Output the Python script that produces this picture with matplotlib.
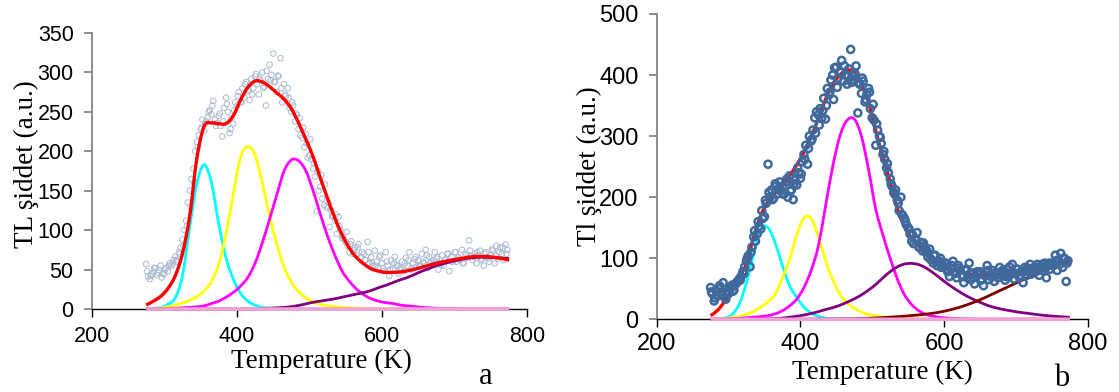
import numpy as np
import matplotlib
matplotlib.use("Agg")
import matplotlib.pyplot as plt
from matplotlib.path import Path
from matplotlib.patches import PathPatch

W, H = 1119, 392

# temperature grid for the fitted glow-curve components (K)
temps = np.arange(275, 776, 10)
# temperature of the measured points (K): main sweep and in-between readings
pts_t = np.arange(275, 775, 2.5)
pts_t2 = np.arange(276.25, 775, 5)

# ---- sample a ----
cyan_a = [0, 0.5, 2, 6, 14, 42, 104, 160, 183, 160, 108, 65, 38, 20, 10, 5, 2, 1,
          0, 0, 0, 0, 0, 0, 0, 0, 0, 0, 0, 0, 0, 0, 0, 0, 0, 0, 0, 0, 0, 0, 0, 0, 0,
          0, 0, 0, 0, 0, 0, 0, 0]
yellow_a = [0.3, 0.8, 1.5, 3, 5, 7.5, 11, 16, 23, 35, 57, 95, 146, 192, 206, 195, 160,
            118, 82, 53, 34, 22, 14, 9, 6, 4, 3, 2, 1.5, 1, 0.7, 0.5, 0.4, 0.3, 0.3,
            0.3, 0.3, 0.3, 0.3, 0.3, 0.3, 0.3, 0.3, 0.3, 0.3, 0.3, 0.3, 0.3, 0.3, 0.3,
            0.3]
magenta_a = [0, 0.3, 0.5, 0.8, 1, 1.5, 2, 2.8, 4, 7, 10, 15, 21, 29, 40, 58, 84, 114,
             145, 175, 189, 188, 175, 150, 120, 92, 68, 48, 35, 25, 18, 13, 10, 8, 7,
             5, 4, 3, 2, 1.5, 1, 0.7, 0.5, 0.3, 0.2, 0.2, 0.2, 0.2, 0.2, 0.2, 0.2]
purple_a = [0, 0, 0, 0, 0, 0, 0, 0, 0, 0, 0, 0, 0, 0, 0, 0, 0.5, 1, 1.5, 2, 3, 4.5,
            6.5, 8.5, 10, 11.5, 13, 15, 17, 19, 21, 23.5, 27, 30, 33.5, 37, 40, 44,
            48, 51.5, 55, 57.5, 60, 62, 64, 65, 65.6, 65.5, 65, 64.5, 64]
red_a = [5, 10, 16, 26, 42, 70, 118, 192, 232, 236, 235, 235, 245, 265, 281, 289, 288,
         282, 274, 266, 254, 236, 215, 193, 166, 140, 115, 94, 77, 65, 57, 51, 48,
         46.5, 46.5, 47, 48.5, 50.5, 53, 55.5, 58, 60, 62, 63.5, 65, 66.4, 66.6, 66.4,
         65.5, 64, 62]
meas_a = [57, 41, 38, 44, 47, 52, 43, 49, 55, 45,
          44, 52, 48, 58, 55, 62, 66, 60, 72, 78,
          88, 100, 112, 135, 150, 165, 178, 200, 212, 220,
          228, 240, 226, 238, 243, 252, 247, 264, 240, 236,
          245, 232, 219, 255, 268, 250, 223, 242, 235, 262,
          258, 275, 262, 280, 268, 288, 276, 265, 292, 280,
          295, 285, 272, 290, 300, 282, 258, 292, 310, 297,
          324, 288, 275, 295, 318, 262, 285, 270, 280, 255,
          250, 258, 238, 246, 228, 220, 217, 205, 222, 192,
          195, 190, 178, 168, 124, 150, 155, 140, 132, 130,
          128, 104, 125, 118, 112, 95, 117, 100, 90, 88,
          85, 80, 72, 86, 70, 78, 68, 82, 65, 72,
          70, 62, 85, 58, 66, 55, 74, 60, 52, 68,
          58, 48, 72, 55, 42, 62, 50, 66, 56, 45,
          52, 60, 48, 65, 55, 72, 50, 58, 63, 54,
          62, 55, 70, 58, 75, 52, 66, 60, 57, 72,
          64, 50, 58, 68, 55, 62, 70, 48, 66, 60,
          72, 60, 66, 62, 75, 58, 70, 65, 87, 68,
          62, 70, 58, 68, 74, 64, 55, 72, 66, 60,
          68, 74, 58, 80, 64, 78, 70, 62, 82, 75]
meas_a2 = [48, 42, 52, 46, 40, 50, 55, 58, 62, 70,
           80, 105, 130, 160, 205, 230, 235, 250, 258, 232,
           248, 238, 260, 228, 252, 270, 262, 285, 278, 272,
           298, 292, 280, 302, 290, 288, 296, 280, 272, 268,
           262, 248, 242, 230, 210, 215, 185, 175, 170, 158,
           135, 118, 120, 105, 92, 98, 82, 75, 78, 66,
           62, 72, 58, 55, 66, 52, 60, 50, 58, 54,
           50, 58, 62, 52, 66, 55, 60, 68, 58, 62,
           66, 56, 62, 70, 60, 72, 64, 58, 68, 74,
           66, 72, 62, 70, 64, 76, 68, 72, 78, 70]

# ---- sample b ----
cyan_b = [0, 0.5, 2, 8, 25, 60, 107, 148, 150, 125, 88, 55, 36, 20, 10, 5, 2, 1, 0.5,
          0, 0, 0, 0, 0, 0, 0, 0, 0, 0, 0, 0, 0, 0, 0, 0, 0, 0, 0, 0, 0, 0, 0, 0, 0,
          0, 0, 0, 0, 0, 0, 0]
yellow_b = [0.3, 0.8, 1.5, 3, 5, 8, 13, 20, 29, 41, 68, 98, 138, 166, 165, 135, 97, 65,
            41, 27, 18, 12, 8, 5.5, 4, 3, 2, 1.5, 1, 0.7, 0.5, 0.3, 0.2, 0.2, 0.2,
            0.2, 0.2, 0.2, 0.2, 0.2, 0.2, 0.2, 0.2, 0.2, 0.2, 0.2, 0.2, 0.2, 0.2, 0.2,
            0.2]
magenta_b = [0, 0.2, 0.4, 0.8, 1.5, 2.5, 3.5, 4.5, 6, 9, 14, 22, 33, 52, 80, 120, 185,
             250, 300, 326, 328, 300, 245, 180, 138, 100, 66, 40, 24, 14, 8, 5, 3, 2,
             1.3, 0.8, 0.5, 0.3, 0.2, 0.2, 0.2, 0.2, 0.2, 0.2, 0.2, 0.2, 0.2, 0.2,
             0.2, 0.2, 0.2]
purple_b = [0, 0, 0, 0, 0.1, 0.2, 0.3, 0.5, 0.7, 1, 2, 3.5, 5, 7, 9.5, 12.5, 16, 19,
            23, 28, 33.5, 40, 48, 57, 68, 78, 86, 90.5, 91.5, 89.5, 84, 76, 67, 58,
            50, 42.5, 36, 30.5, 25.5, 21, 18, 15.5, 13.5, 11.5, 10, 8.5, 7, 5.8, 4.8,
            4, 3.3]
maroon_b = [0, 0, 0, 0, 0, 0, 0, 0, 0, 0, 0, 0, 0.1, 0.2, 0.3, 0.4, 0.5, 0.6, 0.7,
            0.85, 1, 1.3, 1.7, 2.2, 2.8, 3.5, 4.3, 5.2, 6.2, 7.2, 8.5, 10, 12, 14.5,
            17.5, 21, 25, 29.5, 34.5, 40, 45.5, 51, 56.5, 62, 67.5, 73, 78.5, 84,
            88.5, 92.5, 96]
red_b = [6, 15, 30, 48, 68, 92, 135, 170, 193, 207, 219, 235, 253, 274, 300, 328, 360,
         385, 400, 408, 405, 385, 355, 308, 266, 225, 181, 152, 133, 120, 108, 97, 90,
         84, 80, 77, 74.5, 73, 72.5, 72.5, 73, 74, 76, 78, 80, 82.5, 85, 88, 91, 94,
         97]
meas_b = [52, 42, 30, 47, 38, 55, 44, 60, 36, 45,
          42, 50, 56, 48, 58, 62, 66, 70, 78, 86,
          96, 104, 86, 118, 135, 128, 140, 152, 148, 165,
          168, 190, 254, 200, 212, 198, 222, 205, 215, 210,
          218, 205, 225, 200, 235, 212, 196, 228, 220, 240,
          231, 258, 270, 285, 254, 300, 292, 310, 330, 340,
          335, 345, 330, 362, 328, 378, 368, 392, 400, 412,
          413, 395, 405, 424, 390, 400, 385, 410, 442, 398,
          392, 415, 338, 385, 370, 390, 356, 368, 378, 345,
          330, 326, 285, 310, 300, 288, 270, 262, 248, 240,
          230, 218, 208, 212, 195, 178, 200, 170, 165, 155,
          150, 140, 128, 124, 132, 142, 118, 126, 112, 120,
          110, 102, 115, 98, 92, 105, 88, 96, 100, 90,
          86, 92, 78, 70, 82, 95, 75, 68, 88, 80,
          72, 60, 80, 68, 92, 65, 76, 58, 70, 74,
          78, 66, 55, 72, 88, 65, 70, 80, 62, 75,
          68, 85, 72, 78, 64, 82, 70, 76, 90, 66,
          75, 82, 68, 78, 60, 85, 72, 80, 90, 76,
          84, 78, 90, 72, 86, 80, 92, 68, 88, 82,
          92, 88, 105, 80, 95, 108, 85, 100, 62, 96]
meas_b2 = [45, 35, 50, 40, 33, 52, 46, 60, 64, 75,
           100, 110, 145, 160, 178, 195, 208, 196, 218, 225,
           205, 230, 210, 222, 248, 238, 262, 280, 295, 305,
           318, 342, 350, 372, 360, 380, 405, 415, 398, 388,
           402, 388, 395, 360, 372, 352, 320, 298, 275, 255,
           222, 205, 190, 172, 160, 148, 138, 130, 118, 125,
           112, 98, 104, 94, 85, 92, 80, 88, 76, 84,
           70, 82, 75, 68, 78, 64, 72, 80, 70, 76,
           74, 80, 70, 86, 75, 82, 72, 78, 84, 74,
           86, 80, 90, 84, 92, 88, 96, 90, 100, 92]

baseline = [0] * len(temps)

plt.rcParams['font.family'] = 'Liberation Sans'
SERIF = 'Liberation Serif'

fig = plt.figure(figsize=(W / 100, H / 100), dpi=100)


def style_axes(ax, ymax, ystep, fs, xpad):
    ax.set_xlim(200, 800)
    ax.set_ylim(0, ymax)
    ax.set_xticks([200, 400, 600, 800])
    ax.set_yticks(np.arange(0, ymax + 1, ystep))
    for s in ('top', 'right'):
        ax.spines[s].set_visible(False)
    ax.spines['left'].set_color('#8c8c8c')
    ax.spines['left'].set_linewidth(1.4)
    ax.spines['bottom'].set_color('black')
    ax.spines['bottom'].set_linewidth(1.0)
    ax.tick_params(axis='x', direction='out', length=6, width=1.0, color='black',
                   pad=xpad, labelsize=fs)
    ax.tick_params(axis='y', direction='out', length=6, width=1.4, color='#8c8c8c',
                   pad=7, labelsize=fs)


def curve(ax, y, color, lw=2.0, z=3):
    # smoothed line through the points (Catmull-Rom segments as cubic Beziers)
    pts = np.column_stack([temps, np.asarray(y, float)])
    verts = [pts[0]]
    codes = [Path.MOVETO]
    n = len(pts)
    for i in range(n - 1):
        p0 = pts[max(i - 1, 0)]
        p1 = pts[i]
        p2 = pts[i + 1]
        p3 = pts[min(i + 2, n - 1)]
        verts += [p1 + (p2 - p0) / 6, p2 - (p3 - p1) / 6, p2]
        codes += [Path.CURVE4] * 3
    ax.add_patch(PathPatch(Path(verts, codes), fill=False, edgecolor=color,
                           lw=lw, zorder=z, clip_on=False, capstyle='butt'))


# panel a: faint measured points under the fit
ax_a = fig.add_axes([91.7 / W, (H - 309) / H, 435.6 / W, 276 / H])
style_axes(ax_a, 350, 50, 15.5, 6)
ax_a.scatter(np.concatenate([pts_t, pts_t2]), meas_a + meas_a2, s=16,
             facecolors='none', edgecolors='#a9b9d1', linewidths=0.7, zorder=2)
curve(ax_a, cyan_a, '#00ffff')
curve(ax_a, yellow_a, '#ffff00')
curve(ax_a, magenta_a, '#ff00ff')
curve(ax_a, purple_a, '#800080')
curve(ax_a, red_a, '#ff0000', lw=2.4, z=4)
curve(ax_a, baseline, '#f2a2d4', lw=2.6, z=5)

# panel b: bold measured points drawn over the fit
ax_b = fig.add_axes([656.7 / W, (H - 319.3) / H, 431 / W, 305.3 / H])
style_axes(ax_b, 500, 100, 17, 4)
curve(ax_b, red_b, '#ff0000', lw=2.4, z=2)
curve(ax_b, cyan_b, '#00ffff')
curve(ax_b, yellow_b, '#ffff00')
curve(ax_b, magenta_b, '#ff00ff')
curve(ax_b, purple_b, '#800080')
curve(ax_b, maroon_b, '#800000')
curve(ax_b, baseline, '#f2a2d4', lw=2.6, z=5)
ax_b.scatter(np.concatenate([pts_t, pts_t2]), meas_b + meas_b2, s=26,
             facecolors='none', edgecolors='#3f699c', linewidths=1.8, zorder=4)


def ftext(x, y, s, **kw):
    fig.text(x / W, 1 - y / H, s, ha='center', va='center', family=SERIF, **kw)


ftext(26, 164, 'TL şiddet (a.u.)', fontsize=19.5, rotation=90)
ftext(321, 361, 'Temperature (K)', fontsize=19.5)
ftext(486, 377, 'a', fontsize=22)

ftext(589, 166, 'Tl şiddet (a.u.)', fontsize=19.5, rotation=90)
ftext(882, 372, 'Temperature (K)', fontsize=19.5)
ftext(1062, 378, 'b', fontsize=22)

fig.savefig('out.png', dpi=100, facecolor='white')
